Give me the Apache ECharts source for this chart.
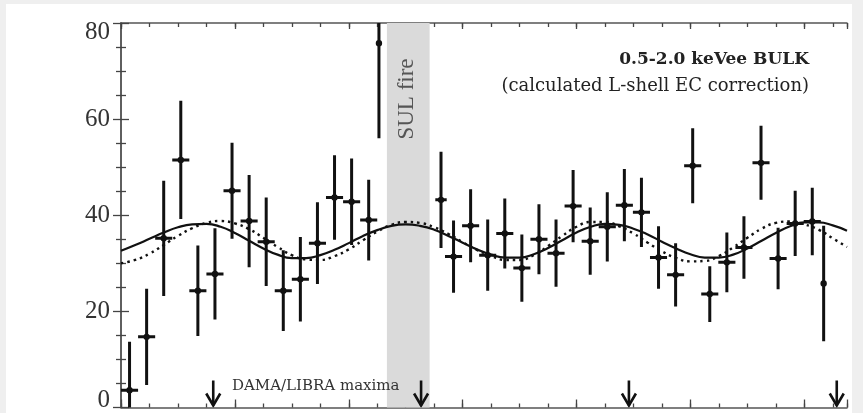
<!DOCTYPE html>
<html>
<head>
<meta charset="utf-8">
<script src="https://cdn.jsdelivr.net/npm/echarts@6/dist/echarts.min.js"></script>
<style>
  html, body { margin: 0; padding: 0; background: #efefef; }
  #chart { width: 863px; height: 413px; }
</style>
</head>
<body>
<div id="chart"></div>
<script>
// 30-day bins: centre (days), rate, vertical error, horizontal half-width (days)
const binDays = [15, 45, 75, 105, 135, 165, 195, 225, 255, 285, 315, 345, 375, 405, 435, 453,
  562, 584, 614, 644, 674, 704, 734, 764, 794, 824, 854, 884, 914, 944, 974, 1004, 1034, 1064,
  1094, 1124, 1154, 1184, 1214, 1234];
const binCounts = [3.6, 14.7, 35.2, 51.5, 24.3, 27.8, 45.1, 38.8, 34.5, 24.3, 26.7, 34.2, 43.7, 42.8, 39.0, 75.8,
  43.2, 31.4, 37.8, 31.7, 36.2, 29.0, 35.0, 32.1, 41.9, 34.6, 37.6, 42.1, 40.6, 31.2, 27.6, 50.3, 23.6, 30.2,
  33.3, 50.9, 31.0, 38.3, 38.7, 25.8];
const binErrors = [10.1, 10.0, 12.0, 12.3, 9.4, 9.5, 10.0, 9.6, 9.2, 8.4, 8.8, 8.5, 8.8, 9.0, 8.4, 19.8,
  10.0, 7.5, 7.6, 7.4, 7.3, 7.0, 7.3, 7.0, 7.5, 7.0, 7.2, 7.5, 7.2, 6.5, 6.6, 7.8, 5.8, 6.2,
  6.5, 7.7, 6.4, 6.8, 7.0, 12.0];
const binHalfWidths = [15, 15, 15, 15, 15, 15, 15, 15, 15, 15, 15, 15, 15, 15, 15, 0,
  10, 15, 15, 15, 15, 15, 15, 15, 15, 15, 15, 15, 15, 15, 15, 15, 15, 15,
  15, 15, 15, 15, 15, 0];

// modulation fits sampled every 25 days along the time axis
const fitDays = [0, 25, 50, 75, 100, 125, 150, 175, 200, 225, 250, 275, 300, 325, 350, 375, 400,
  425, 450, 475, 500, 525, 550, 575, 600, 625, 650, 675, 700, 725, 750, 775, 800, 825, 850, 875,
  900, 925, 950, 975, 1000, 1025, 1050, 1075, 1100, 1125, 1150, 1175, 1200, 1225, 1250, 1275];
const fitSolid = [32.6, 33.8, 35.1, 36.4, 37.5, 38.1, 38.2, 37.6, 36.3, 34.7,
  33.1, 31.8, 31.1, 31.1, 31.7, 32.8, 34.2, 35.7, 36.9, 37.8,
  38.1, 37.8, 37.0, 35.7, 34.3, 32.9, 31.8, 31.2, 31.2, 31.9,
  33.2, 34.8, 36.4, 37.6, 38.2, 38.0, 37.2, 36.0, 34.5, 33.1,
  31.9, 31.2, 31.2, 31.8, 33.1, 34.7, 36.3, 37.7, 38.5, 38.5,
  37.9, 36.8];
const fitDotted = [30.0, 30.7, 32.0, 33.8, 35.7, 37.3, 38.4, 38.8, 38.3, 37.1,
  35.3, 33.4, 31.7, 30.8, 30.7, 31.5, 32.9, 34.8, 36.6, 38.0,
  38.6, 38.4, 37.5, 36.1, 34.4, 32.8, 31.5, 30.7, 30.7, 31.7,
  33.6, 35.7, 37.6, 38.6, 38.6, 37.7, 36.2, 34.3, 32.5, 31.1,
  30.4, 30.5, 31.5, 33.3, 35.3, 37.2, 38.4, 38.7, 38.1, 37.0,
  35.2, 33.4];

const damaMaxima = [162, 527, 892, 1257];
const sulFire = [467, 542];
const arrowTop = 5.6;

const yTickLabels = ['0', '20', '40', '60', '80'];

const ink = '#111';
const serif = 'Liberation Serif';

const chart = echarts.init(document.getElementById('chart'));

const tickStyle = { color: '#444', width: 1.3 };
const axisLineStyle = { color: '#555', width: 1.5 };

function xAxisDef(position, interval, len, showLine) {
  return {
    type: 'value', position: position, min: 0, max: 1275, interval: interval,
    axisLine: { show: showLine, lineStyle: axisLineStyle },
    axisTick: { show: true, inside: true, length: len, lineStyle: tickStyle },
    axisLabel: { show: false },
    splitLine: { show: false }
  };
}

function yAxisDef(position, labels) {
  return {
    type: 'value', position: position, min: 0, max: 80, interval: 20,
    axisLine: { show: true, lineStyle: axisLineStyle },
    axisTick: { show: true, inside: true, length: 8, lineStyle: tickStyle },
    minorTick: { show: true, splitNumber: 4, length: 5, lineStyle: tickStyle },
    splitLine: { show: false },
    minorSplitLine: { show: false },
    axisLabel: labels ? {
      show: true, margin: 11, color: '#333',
      fontFamily: serif, fontSize: 25,
      formatter: function (v) {
        const s = yTickLabels[Math.round(v / 20)];
        if (v === 80) return '{hi|' + s + '}';
        if (v === 0) return '{lo|' + s + '}';
        return s;
      },
      rich: {
        hi: { fontFamily: serif, fontSize: 25, color: '#333', padding: [18, 0, 0, 0] },
        lo: { fontFamily: serif, fontSize: 25, color: '#333', padding: [0, 0, 14, 0] }
      }
    } : { show: false }
  };
}

chart.setOption({
  animation: false,
  backgroundColor: 'transparent',
  grid: { left: 121, right: 16, top: 23, bottom: 5, containLabel: false },
  xAxis: [
    xAxisDef('bottom', 50, 4, true),
    xAxisDef('bottom', 200, 8, false),
    xAxisDef('top', 50, 4, true),
    xAxisDef('top', 200, 6, false)
  ],
  yAxis: [yAxisDef('left', true), yAxisDef('right', false)],
  graphic: [
    { type: 'rect', z: -10, silent: true, shape: { x: 6, y: 4, width: 846, height: 409 }, style: { fill: '#fff' } },
    { type: 'text', z: 100, x: 809, y: 60, style: {
        text: '0.5-2.0 keVee BULK', fill: '#222', font: 'bold 17px "DejaVu Serif"',
        textAlign: 'right', textVerticalAlign: 'middle' } },
    { type: 'text', z: 100, x: 809, y: 86, style: {
        text: '(calculated L-shell EC correction)', fill: '#222', font: '18px "DejaVu Serif"',
        textAlign: 'right', textVerticalAlign: 'middle' } },
    { type: 'text', z: 100, x: 232, y: 386, style: {
        text: 'DAMA/LIBRA maxima', fill: '#333', font: '15px "DejaVu Serif"',
        textAlign: 'left', textVerticalAlign: 'middle' } },
    { type: 'text', z: 100, x: 407, y: 99, rotation: Math.PI / 2, style: {
        text: 'SUL fire', fill: '#555', font: '23px "Liberation Serif"',
        textAlign: 'center', textVerticalAlign: 'middle' } }
  ],
  series: [
    {
      // detector-off interval
      type: 'custom', name: 'SUL fire', z: 1, silent: true,
      data: [sulFire],
      renderItem: function (params, api) {
        const a = api.coord([api.value(0), 80]);
        const b = api.coord([api.value(1), 0]);
        return { type: 'rect', shape: { x: a[0], y: a[1], width: b[0] - a[0], height: b[1] - a[1] },
                 style: { fill: '#dadada' } };
      }
    },
    {
      type: 'line', name: 'fit', z: 3, smooth: true, symbol: 'none', silent: true,
      data: fitDays.map((d, i) => [d, fitSolid[i]]),
      lineStyle: { color: ink, width: 2.2 }
    },
    {
      type: 'line', name: 'fit (alt)', z: 3, smooth: true, symbol: 'none', silent: true,
      data: fitDays.map((d, i) => [d, fitDotted[i]]),
      lineStyle: { color: ink, width: 2.4, type: [2.5, 4] }
    },
    {
      type: 'custom', name: 'rate', z: 4, clip: true, silent: true,
      data: binDays.map((d, i) => [d, binCounts[i], binErrors[i], binHalfWidths[i]]),
      renderItem: function (params, api) {
        const x = api.value(0), y = api.value(1), e = api.value(2), w = api.value(3);
        const c = api.coord([x, y]);
        const top = api.coord([x, y + e]);
        const bot = api.coord([x, y - e]);
        const l = api.coord([x - w, y]);
        const r = api.coord([x + w, y]);
        const st = { stroke: ink, lineWidth: 3 };
        const kids = [
          { type: 'line', shape: { x1: c[0], y1: top[1], x2: c[0], y2: bot[1] }, style: st },
          { type: 'circle', shape: { cx: c[0], cy: c[1], r: 3.2 }, style: { fill: ink } }
        ];
        if (w > 0) {
          kids.push({ type: 'line', shape: { x1: l[0], y1: c[1], x2: r[0], y2: c[1] }, style: st });
        }
        return { type: 'group', children: kids };
      }
    },
    {
      type: 'custom', name: 'DAMA/LIBRA maxima', z: 4, clip: true, silent: true,
      data: damaMaxima.map(d => [d, arrowTop]),
      renderItem: function (params, api) {
        const t = api.coord([api.value(0), api.value(1)]);
        const b = api.coord([api.value(0), 0]);
        const tipY = b[1] - 2;
        const st = { stroke: ink, lineWidth: 2.6, fill: null };
        return { type: 'group', children: [
          { type: 'line', shape: { x1: t[0], y1: t[1], x2: t[0], y2: tipY }, style: st },
          { type: 'polyline', shape: { points: [[t[0] - 7, tipY - 12], [t[0], tipY], [t[0] + 7, tipY - 12]] }, style: st }
        ] };
      }
    }
  ]
});
</script>
</body>
</html>
